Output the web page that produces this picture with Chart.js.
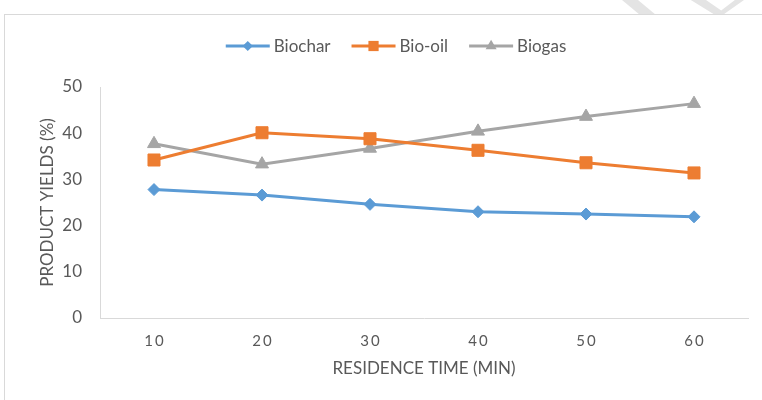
<!DOCTYPE html>
<html>
   <head>
      <title>Product yields vs residence time</title>
      <style>
         body {
         margin: 0;
         background: #ffffff;
         overflow: hidden;
         }
         #frame {
         position: absolute;
         left: 4px;
         top: 14px;
         width: 820px;
         height: 420px;
         border: 1px solid #d9d9d9;
         }
         .mark {
         position: absolute;
         top: 0;
         height: 15px;
         background: #e4e4e4;
         }
         #chart {
         position: absolute;
         left: 0;
         top: 0;
         }
      </style>
      <script src="https://cdn.jsdelivr.net/npm/chart.js"></script>
   </head>
   <body>
      <div class="mark" style="left:618px;width:40px;clip-path:polygon(10% 0,50% 0,95% 100%,55% 100%);"></div>
      <div class="mark" style="left:668px;width:76px;clip-path:polygon(30% 0,50% 0,70% 70%,88% 0,100% 0,72% 100%,62% 100%);"></div>
      <div id="frame"></div>
      <canvas id="chart" width="792" height="400"></canvas>
      <script>
         // data
         const residenceTime = ['10', '20', '30', '40', '50', '60'];
         const biochar = [27.8, 26.6, 24.6, 23.0, 22.5, 21.9];
         const bioOil = [34.2, 40.1, 38.8, 36.3, 33.6, 31.4];
         const biogas = [37.7, 33.3, 36.7, 40.4, 43.6, 46.4];
         const yTicks = [0, 10, 20, 30, 40, 50];

         const textColor = '#595959';
         const fontName = 'Lato, "Open Sans", sans-serif';

         // Excel style legend: a short line with the marker in the middle
         function drawMarker(ctx, style, x, y, r) {
           ctx.beginPath();
           if (style === 'rectRot') {
             ctx.moveTo(x, y - r); ctx.lineTo(x + r, y); ctx.lineTo(x, y + r); ctx.lineTo(x - r, y);
           } else if (style === 'rect') {
             const s = r * Math.SQRT1_2;
             ctx.rect(x - s, y - s, 2 * s, 2 * s);
           } else {
             ctx.moveTo(x, y - r);
             ctx.lineTo(x + r * 0.866, y + r / 2);
             ctx.lineTo(x - r * 0.866, y + r / 2);
           }
           ctx.closePath();
           ctx.fill();
         }

         const lineLegend = {
           id: 'lineLegend',
           afterDraw(chart) {
             const ctx = chart.ctx;
             const y = 46, lineLen = 44, gap = 4, itemGap = 21;
             ctx.save();
             ctx.font = '17px ' + fontName;
             ctx.textBaseline = 'middle';
             const sets = chart.data.datasets;
             const widths = sets.map(d => lineLen + gap + ctx.measureText(d.label).width);
             const total = widths.reduce((a, b) => a + b, 0) + itemGap * (sets.length - 1);
             let x = chart.width / 2 - total / 2;
             sets.forEach((d, i) => {
               ctx.strokeStyle = d.borderColor;
               ctx.fillStyle = d.borderColor;
               ctx.lineWidth = 3;
               ctx.beginPath();
               ctx.moveTo(x, y);
               ctx.lineTo(x + lineLen, y);
               ctx.stroke();
               drawMarker(ctx, d.pointStyle, x + lineLen / 2, y, d.pointRadius * 0.85);
               ctx.fillStyle = textColor;
               ctx.fillText(d.label, x + lineLen + gap, y + 1);
               x += widths[i] + itemGap;
             });
             ctx.restore();
           }
         };

         function series(label, data, color, style, radius) {
           return {
             label: label,
             data: data,
             borderColor: color,
             backgroundColor: color,
             borderWidth: 3,
             pointStyle: style,
             pointRadius: radius,
             pointBorderWidth: 1,
             pointBackgroundColor: color,
             pointBorderColor: color,
             tension: 0
           };
         }

         new Chart(document.getElementById('chart'), {
           type: 'line',
           data: {
             labels: residenceTime,
             datasets: [
               series('Biochar', biochar, '#5b9bd5', 'rectRot', 6),
               series('Bio-oil', bioOil, '#ed7d31', 'rect', 8.5),
               series('Biogas', biogas, '#a5a5a5', 'triangle', 7.5)
             ]
           },
           options: {
             responsive: false,
             animation: false,
             layout: {
               padding: { top: 87, right: 44, left: 0, bottom: 0 }
             },
             plugins: {
               legend: { display: false },
               tooltip: { enabled: false }
             },
             scales: {
               x: {
                 offset: true,
                 grid: { color: 'rgba(0,0,0,0)', drawTicks: false },
                 border: { color: '#d9d9d9', width: 1 },
                 ticks: {
                   color: textColor,
                   font: { family: fontName, size: 15 },
                   padding: 14,
                   maxRotation: 0,
                   callback: function (value) {
                     return this.getLabelForValue(value).split('').join('\u2009');
                   }
                 },
                 title: {
                   display: true,
                   text: 'RESIDENCE TIME (MIN)',
                   color: textColor,
                   font: { family: fontName, size: 17 },
                   padding: { top: 0, bottom: 21 }
                 },
                 afterFit: s => { s.height = 82; }
               },
               y: {
                 min: yTicks[0],
                 max: yTicks[yTicks.length - 1],
                 afterBuildTicks: s => { s.ticks = yTicks.map(v => ({ value: v })); },
                 grid: { color: 'rgba(0,0,0,0)', drawTicks: false },
                 border: { color: '#d9d9d9', width: 1 },
                 ticks: {
                   color: textColor,
                   font: { family: fontName, size: 17 },
                   padding: 18
                 },
                 title: {
                   display: true,
                   text: 'PRODUCT YIELDS (%)',
                   color: textColor,
                   font: { family: fontName, size: 17 },
                   padding: { top: 37, bottom: 0 }
                 },
                 afterFit: s => { s.width = 100; }
               }
             }
           },
           plugins: [lineLegend]
         });
      </script>
   </body>
</html>
